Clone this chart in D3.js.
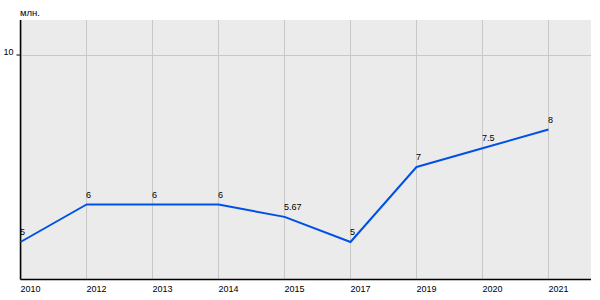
<!DOCTYPE html>
<html><head><meta charset="utf-8">
<script src="https://cdn.jsdelivr.net/npm/d3@7"></script>
<style>body{margin:0;background:#fff}svg{display:block}text{font-family:"Liberation Sans",Arial,sans-serif}</style>
</head><body>
<svg id="c" width="600" height="300"></svg>
<script>
const categories = ["2010","2012","2013","2014","2015","2017","2019","2020","2021"];
const values = [5, 6, 6, 6, 5.67, 5, 7, 7.5, 8];
const valueLabels = ["5","6","6","6","5.67","5","7","7.5","8"];
const yTicks = [10];
const unitLabel = "млн.";

const svg = d3.select("#c");
const L = 20.5, R = 591, T = 20, B = 279.5;
const x = d3.scaleLinear().domain([0, 8.644]).range([L, R]);
const y = d3.scaleLinear().domain([4, 10.92]).range([B, T]);

svg.append("rect").attr("x", L).attr("y", T).attr("width", R - L).attr("height", B - T).attr("fill", "#ebebeb");

// vertical grid
svg.append("g").selectAll("line").data(categories).join("line")
  .attr("x1", (d, i) => Math.round(x(i)) + 0.5).attr("x2", (d, i) => Math.round(x(i)) + 0.5)
  .attr("y1", T).attr("y2", B).attr("stroke", "#c8c8c8").attr("stroke-width", 1);
// horizontal grid
svg.append("g").selectAll("line").data(yTicks).join("line")
  .attr("x1", L).attr("x2", R).attr("y1", d => Math.round(y(d)) + 0.5).attr("y2", d => Math.round(y(d)) + 0.5)
  .attr("stroke", "#c8c8c8").attr("stroke-width", 1);

// axes
const yAxis = d3.axisLeft(y).tickValues(yTicks).tickSize(4).tickSizeOuter(0).tickFormat(d3.format("d"));
const gy = svg.append("g").attr("transform", `translate(${L},0)`).call(yAxis);
gy.select(".domain").attr("stroke", "#000").attr("stroke-width", 1.5).attr("d", `M0,${T}V${B}`);
gy.selectAll(".tick line").attr("stroke", "#000");
gy.selectAll(".tick text").attr("font-size", 9).attr("fill", "#000").attr("x", -7).attr("dy", "-0.05em").attr("font-family", "Liberation Sans, Arial, sans-serif");

const xAxis = d3.axisBottom(x).tickValues(d3.range(categories.length)).tickFormat(i => categories[i]).tickSize(0);
const gx = svg.append("g").attr("transform", `translate(0,${B})`).call(xAxis);
gx.select(".domain").attr("stroke", "#000").attr("stroke-width", 1.5).attr("d", `M${L},0H${R}`);
gx.selectAll(".tick text").attr("font-size", 9).attr("fill", "#000").attr("text-anchor", "start")
  .attr("y", 12.5).attr("dy", 0).attr("x", -0.5).attr("font-family", "Liberation Sans, Arial, sans-serif");

// line
const line = d3.line().x((d, i) => x(i)).y(d => y(d));
svg.append("path").datum(values).attr("d", line).attr("fill", "none")
  .attr("stroke", "#0050e6").attr("stroke-width", 2).attr("stroke-linejoin", "round");

// value labels
svg.append("g").selectAll("text").data(values).join("text")
  .attr("x", (d, i) => x(i) - 0.5).attr("y", d => y(d) - 7)
  .attr("font-size", 9).attr("fill", "#000").text((d, i) => valueLabels[i]);

svg.append("text").attr("x", 20).attr("y", 15.5).attr("font-size", 9.5).attr("fill", "#000").text(unitLabel);
</script>
</body></html>
